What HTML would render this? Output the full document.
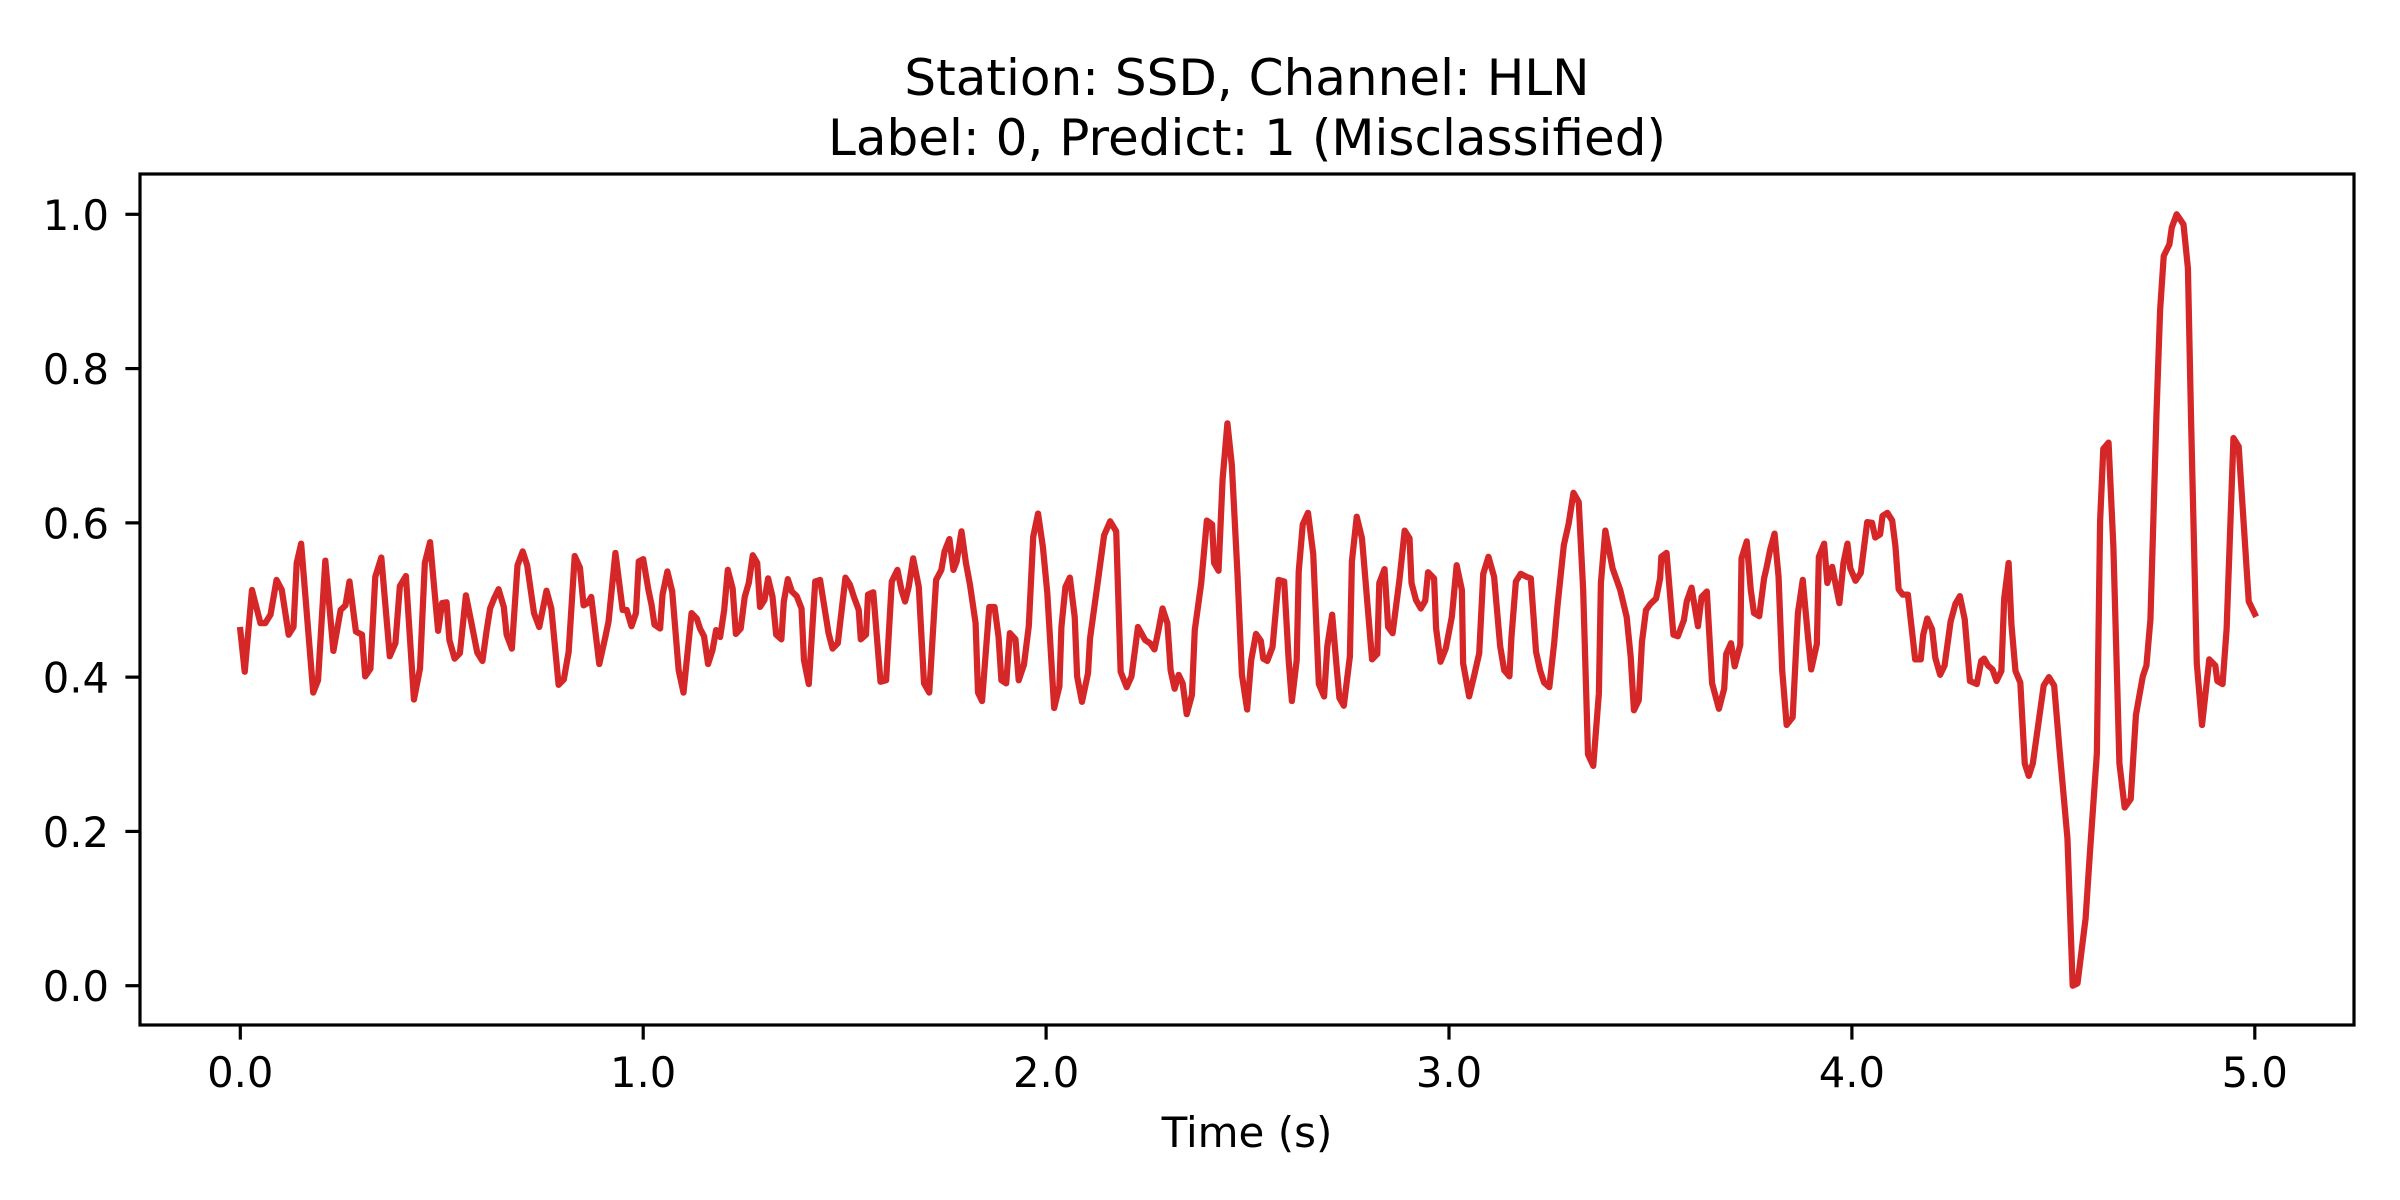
<!DOCTYPE html>
<html>
<head>
<meta charset="utf-8">
<style>
  html,body{margin:0;padding:0;background:#fff;}
  svg{display:block;}
  text{font-family:"DejaVu Sans","Liberation Sans",sans-serif;fill:#000;}
</style>
</head>
<body>
<svg id="chart" width="2400" height="1200" viewBox="0 0 2400 1200" xmlns="http://www.w3.org/2000/svg">
  <rect x="0" y="0" width="2400" height="1200" fill="#fff"/>
  <g id="title">
    <text x="1247" y="95" font-size="50" text-anchor="middle">Station: SSD, Channel: HLN</text>
    <text x="1247" y="155" font-size="50" text-anchor="middle">Label: 0, Predict: 1 (Misclassified)</text>
  </g>
  <g id="plot"></g>
  <g id="xticks"></g>
  <g id="yticks"></g>
  <rect x="140" y="174" width="2214" height="851" fill="none" stroke="#000" stroke-width="3.2"/>
  <text x="1247" y="1147" font-size="42" text-anchor="middle">Time (s)</text>
</svg>
<script>
const xTickValues = [0, 1, 2, 3, 4, 5];
const xTickLabels = ["0.0", "1.0", "2.0", "3.0", "4.0", "5.0"];
const yTickValues = [0, 0.2, 0.4, 0.6, 0.8, 1.0];
const yTickLabels = ["0.0", "0.2", "0.4", "0.6", "0.8", "1.0"];

const times = [
0.000,0.011,0.029,0.050,0.062,0.075,0.090,0.103,0.120,0.132,0.140,0.151,0.181,0.193,0.211,0.231,0.249,0.261,0.271,0.287,0.302,0.310,0.323,0.335,0.350,0.371,0.385,0.396,0.411,0.431,0.446,0.458,0.471,0.491,0.501,0.512,0.519,0.532,0.545,0.560,0.573,0.588,0.601,0.611,0.620,0.630,0.641,0.654,0.661,0.674,0.688,0.701,0.712,0.729,0.742,0.760,0.772,0.790,0.803,0.815,0.830,0.843,0.852,0.862,0.871,0.891,0.906,0.914,0.931,0.949,0.959,0.971,0.982,0.989,1.000,1.013,
1.021,1.028,1.042,1.048,1.060,1.072,1.088,1.100,1.120,1.133,1.141,1.151,1.161,1.172,1.181,1.191,1.201,1.210,1.222,1.230,1.242,1.252,1.262,1.272,1.283,1.290,1.301,1.310,1.321,1.330,1.343,1.349,1.359,1.369,1.381,1.393,1.399,1.411,1.427,1.439,1.460,1.470,1.483,1.502,1.513,1.523,1.535,1.540,1.553,1.558,1.571,1.589,1.603,1.617,1.631,1.641,1.650,1.659,1.670,1.684,1.697,1.710,1.727,1.740,1.748,1.760,1.770,1.778,1.790,1.801,1.811,1.825,1.831,1.841,1.859,1.872,1.882,1.889,1.901,1.910,1.924,1.932,1.945,1.957,1.968,1.980,1.992,
2.003,2.020,2.033,2.038,2.048,2.059,2.071,2.077,2.089,2.104,2.109,2.129,2.144,2.159,2.174,2.185,2.200,2.212,2.228,2.246,2.258,2.269,2.279,2.289,2.301,2.309,2.319,2.329,2.339,2.349,2.362,2.369,2.385,2.399,2.412,2.417,2.428,2.438,2.450,2.461,2.475,2.486,2.499,2.509,2.521,2.533,2.539,2.549,2.562,2.577,2.591,2.602,2.610,2.622,2.627,2.637,2.650,2.663,2.677,2.690,2.698,2.710,2.721,2.728,2.739,2.754,2.759,2.771,2.784,2.809,2.822,2.827,2.840,2.849,2.860,2.877,2.890,2.902,2.907,2.918,2.930,2.941,2.948,2.963,2.968,2.979,2.992,
3.007,3.019,3.032,3.035,3.050,3.062,3.075,3.085,3.098,3.112,3.127,3.137,3.150,3.155,3.166,3.178,3.193,3.203,3.216,3.226,3.236,3.249,3.261,3.269,3.285,3.297,3.309,3.322,3.333,3.345,3.358,3.372,3.377,3.388,3.406,3.425,3.441,3.451,3.459,3.471,3.479,3.489,3.500,3.514,3.524,3.527,3.540,3.557,3.568,3.583,3.590,3.602,3.618,3.627,3.640,3.653,3.670,3.683,3.688,3.700,3.709,3.723,3.726,3.739,3.749,3.757,3.770,3.782,3.789,3.797,3.808,3.818,3.827,3.838,3.853,3.866,3.878,3.891,3.899,3.913,3.918,3.931,3.939,3.951,3.969,3.979,3.989,3.996,
4.009,4.022,4.038,4.050,4.058,4.070,4.076,4.088,4.100,4.108,4.116,4.126,4.139,4.157,4.171,4.177,4.187,4.199,4.207,4.219,4.230,4.245,4.257,4.268,4.280,4.293,4.310,4.321,4.328,4.338,4.349,4.359,4.371,4.378,4.389,4.396,4.406,4.418,4.429,4.439,4.449,4.464,4.476,4.489,4.502,4.515,4.535,4.548,4.560,4.580,4.591,4.608,4.616,4.624,4.637,4.649,4.664,4.677,4.692,4.705,4.722,4.731,4.741,4.756,4.765,4.774,4.788,4.794,4.806,4.823,4.834,4.842,4.856,4.869,4.887,4.902,4.907,4.920,4.930,4.947,4.960,4.985,5.000
];
const amplitudes = [
0.461,0.407,0.513,0.470,0.470,0.481,0.526,0.513,0.455,0.465,0.548,0.573,0.380,0.396,0.551,0.434,0.487,0.493,0.524,0.459,0.455,0.401,0.411,0.530,0.555,0.427,0.444,0.518,0.531,0.371,0.411,0.548,0.575,0.460,0.496,0.497,0.448,0.424,0.431,0.506,0.472,0.432,0.421,0.459,0.489,0.502,0.514,0.491,0.455,0.437,0.545,0.563,0.545,0.483,0.465,0.512,0.489,0.390,0.397,0.433,0.557,0.542,0.493,0.496,0.504,0.417,0.452,0.472,0.561,0.487,0.487,0.466,0.483,0.550,0.553,0.513,
0.493,0.468,0.463,0.507,0.537,0.511,0.409,0.380,0.483,0.476,0.463,0.453,0.417,0.435,0.461,0.452,0.487,0.539,0.515,0.456,0.463,0.504,0.522,0.558,0.548,0.491,0.500,0.528,0.504,0.455,0.449,0.498,0.527,0.511,0.505,0.489,0.422,0.391,0.524,0.526,0.457,0.437,0.444,0.529,0.520,0.504,0.487,0.449,0.455,0.507,0.510,0.394,0.396,0.524,0.539,0.513,0.498,0.517,0.554,0.517,0.392,0.380,0.526,0.539,0.563,0.579,0.539,0.550,0.589,0.548,0.520,0.470,0.380,0.369,0.491,0.491,0.452,0.396,0.392,0.457,0.449,0.396,0.416,0.466,0.582,0.612,0.569,
0.509,0.360,0.388,0.465,0.517,0.529,0.478,0.401,0.368,0.405,0.450,0.526,0.584,0.602,0.589,0.407,0.387,0.401,0.465,0.448,0.444,0.436,0.461,0.489,0.470,0.409,0.385,0.403,0.392,0.352,0.377,0.461,0.522,0.603,0.598,0.548,0.538,0.656,0.729,0.675,0.534,0.403,0.358,0.422,0.456,0.447,0.424,0.421,0.439,0.526,0.524,0.422,0.369,0.422,0.537,0.598,0.613,0.560,0.391,0.375,0.440,0.481,0.414,0.373,0.363,0.427,0.550,0.608,0.580,0.423,0.430,0.522,0.540,0.465,0.457,0.526,0.590,0.580,0.522,0.500,0.489,0.499,0.536,0.528,0.463,0.420,0.437,
0.478,0.545,0.513,0.418,0.375,0.401,0.431,0.534,0.556,0.530,0.440,0.409,0.401,0.452,0.524,0.534,0.530,0.528,0.433,0.409,0.393,0.387,0.444,0.491,0.571,0.599,0.639,0.627,0.513,0.300,0.285,0.379,0.522,0.590,0.541,0.513,0.478,0.426,0.357,0.370,0.446,0.487,0.495,0.502,0.528,0.556,0.561,0.455,0.453,0.474,0.498,0.516,0.466,0.504,0.511,0.392,0.359,0.385,0.430,0.444,0.414,0.442,0.554,0.576,0.513,0.483,0.479,0.528,0.544,0.565,0.586,0.530,0.409,0.338,0.348,0.483,0.526,0.452,0.410,0.443,0.556,0.573,0.522,0.543,0.496,0.548,0.573,0.541,
0.525,0.535,0.601,0.600,0.581,0.585,0.609,0.613,0.603,0.570,0.514,0.507,0.507,0.423,0.423,0.455,0.476,0.462,0.425,0.403,0.415,0.472,0.495,0.505,0.475,0.395,0.391,0.421,0.424,0.415,0.410,0.395,0.408,0.502,0.548,0.468,0.408,0.393,0.288,0.272,0.288,0.344,0.389,0.400,0.389,0.308,0.191,0.000,0.003,0.087,0.174,0.301,0.602,0.696,0.704,0.569,0.288,0.231,0.242,0.351,0.401,0.415,0.475,0.742,0.876,0.946,0.961,0.983,1.000,0.987,0.930,0.729,0.418,0.338,0.423,0.415,0.395,0.391,0.462,0.710,0.699,0.498,0.482
];

const X0 = 240.3, XS = 402.9;
const Y0 = 985.7, YS = 771.4;
function xScale(t) { return X0 + t * XS; }
function yScale(v) { return Y0 - v * YS; }

const NS = "http://www.w3.org/2000/svg";
const plot = document.getElementById('plot');
const xg = document.getElementById('xticks');
const yg = document.getElementById('yticks');

// waveform line
let d = "";
for (let i = 0; i < times.length; i++) {
  d += (i === 0 ? "M" : "L") + xScale(times[i]).toFixed(2) + "," + yScale(amplitudes[i]).toFixed(2);
}
const line = document.createElementNS(NS, 'path');
line.setAttribute('d', d);
line.setAttribute('fill', 'none');
line.setAttribute('stroke', '#d62728');
line.setAttribute('stroke-width', '6.25');
line.setAttribute('stroke-linejoin', 'round');
line.setAttribute('stroke-linecap', 'square');


plot.appendChild(line);

// x ticks
for (let i = 0; i < xTickValues.length; i++) {
  const x = xScale(xTickValues[i]);
  const tk = document.createElementNS(NS, 'line');
  tk.setAttribute('x1', x); tk.setAttribute('x2', x);
  tk.setAttribute('y1', 1025); tk.setAttribute('y2', 1039.6);
  tk.setAttribute('stroke', '#000'); tk.setAttribute('stroke-width', '3.2');
  
  
  xg.appendChild(tk);
  const lb = document.createElementNS(NS, 'text');
  lb.setAttribute('x', x); lb.setAttribute('y', 1087);
  lb.setAttribute('font-size', '41.7'); lb.setAttribute('text-anchor', 'middle');
  lb.textContent = xTickLabels[i];
  
  
  xg.appendChild(lb);
}

// y ticks
for (let i = 0; i < yTickValues.length; i++) {
  const y = yScale(yTickValues[i]);
  const tk = document.createElementNS(NS, 'line');
  tk.setAttribute('x1', 125.4); tk.setAttribute('x2', 140);
  tk.setAttribute('y1', y); tk.setAttribute('y2', y);
  tk.setAttribute('stroke', '#000'); tk.setAttribute('stroke-width', '3.2');
  
  
  yg.appendChild(tk);
  const lb = document.createElementNS(NS, 'text');
  lb.setAttribute('x', 109); lb.setAttribute('y', y + 15.5);
  lb.setAttribute('font-size', '41.7'); lb.setAttribute('text-anchor', 'end');
  lb.textContent = yTickLabels[i];
  
  
  yg.appendChild(lb);
}
</script>
</body>
</html>
